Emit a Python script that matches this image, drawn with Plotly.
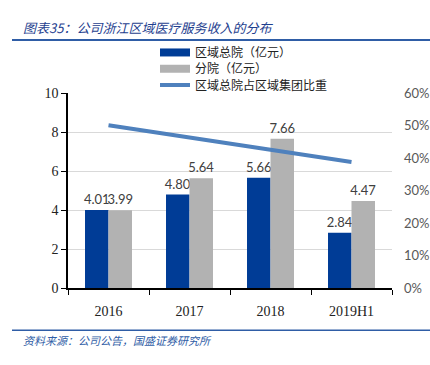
import plotly.graph_objects as go

categories = ["2016", "2017", "2018", "2019H1"]
hq_revenue = [4.01, 4.80, 5.66, 2.84]
branch_revenue = [3.99, 5.64, 7.66, 4.47]
hq_share = [0.501, 0.462, 0.426, 0.388]
series_names = ["区域总院（亿元）", "分院（亿元）", "区域总院占区域集团比重"]

W, H = 430, 365
def px(x):
    return x / W
def py(y):
    return 1 - y / H

blue = "#003C96"
gray = "#B2B2B2"
line_blue = "#4F81BD"
hdr_blue = "#2F5DA6"
label_font = dict(family="Lato, Liberation Sans", size=13, color="#404040")

fig = go.Figure()
fig.add_trace(go.Bar(
    x=categories, y=hq_revenue, name=series_names[0], showlegend=False,
    marker=dict(color=blue, line=dict(width=0)),
    text=[f"{v:.2f}" for v in hq_revenue], textposition="outside",
    textfont=label_font, cliponaxis=False, constraintext="none",
))
fig.add_trace(go.Bar(
    x=categories, y=branch_revenue, name=series_names[1], showlegend=False,
    marker=dict(color=gray, line=dict(width=0)),
    text=[f"{v:.2f}" for v in branch_revenue], textposition="outside",
    textfont=label_font, cliponaxis=False, constraintext="none",
))
fig.add_trace(go.Scatter(
    x=categories, y=hq_share, name=series_names[2], yaxis="y2",
    mode="lines", line=dict(color=line_blue, width=4), showlegend=False,
))

# legend entries (one legend per series, so spacing matches the reference)
fig.add_trace(go.Scatter(x=[categories[0]], y=[None], mode="lines", name=series_names[0],
                         line=dict(color=blue, width=8), legend="legend"))
fig.add_trace(go.Scatter(x=[categories[0]], y=[None], mode="lines", name=series_names[1],
                         line=dict(color=gray, width=8), legend="legend2"))
fig.add_trace(go.Scatter(x=[categories[0]], y=[None], mode="lines", name=series_names[2], yaxis="y2",
                         line=dict(color=line_blue, width=4), legend="legend3"))

leg_common = dict(xanchor="left", yanchor="middle", bgcolor="rgba(0,0,0,0)",
                  font=dict(family="Noto Sans CJK SC", size=12, color="#222"),
                  borderwidth=0)

fig.update_layout(
    width=W, height=H, margin=dict(l=0, r=0, t=0, b=0),
    paper_bgcolor="white", plot_bgcolor="white",
    barmode="group", bargap=0.42, bargroupgap=0,
    showlegend=True,
    legend=dict(x=px(155), y=py(46.5), **leg_common),
    legend2=dict(x=px(155), y=py(63.5), **leg_common),
    legend3=dict(x=px(155), y=py(80.5), **leg_common),
    xaxis=dict(domain=[px(68), px(392)], showline=True, linecolor="black", linewidth=1.5,
               ticks="outside", tickson="boundaries", ticklen=5, tickcolor="black",
               ticklabelstandoff=9,
               tickfont=dict(family="Liberation Serif", size=14, color="#222"),
               showgrid=False),
    yaxis=dict(domain=[py(293), py(89)], range=[0, 10], dtick=2,
               showline=True, linecolor="black", linewidth=1.5,
               ticks="outside", ticklen=5, tickcolor="black",
               tickfont=dict(family="Liberation Serif", size=14, color="#222"),
               showgrid=True, gridcolor="#D9D9D9", zeroline=False),
    yaxis2=dict(overlaying="y", side="right", range=[0, 0.6], dtick=0.1,
                tickformat=".0%", showgrid=False, showline=False, zeroline=False,
                ticklabelstandoff=11,
                tickfont=dict(family="Lato, Liberation Sans", size=13, color="#595959")),
    font=dict(family="Noto Sans CJK SC"),
)

fig.add_shape(type="line", xref="paper", yref="paper", x0=px(12), x1=px(430),
              y0=py(33.5), y1=py(33.5), line=dict(color=hdr_blue, width=2))
fig.add_shape(type="line", xref="paper", yref="paper", x0=px(12), x1=px(430),
              y0=py(337), y1=py(337), line=dict(color=hdr_blue, width=1.5))

fig.add_annotation(text="<i>图表35：公司浙江区域医疗服务收入的分布</i>", xref="paper", yref="paper",
                   x=px(21), y=py(20), xanchor="left", yanchor="middle", showarrow=False,
                   font=dict(family="Noto Sans CJK SC", size=13, color="#1F3F8F"))
fig.add_annotation(text="<i>资料来源：公司公告，国盛证券研究所</i>", xref="paper", yref="paper",
                   x=px(21), y=py(347), xanchor="left", yanchor="middle", showarrow=False,
                   font=dict(family="Noto Sans CJK SC", size=11, color="#2F5DA6"))

fig.write_html("out.html", config={"displayModeBar": False},
               post_script="document.body.style.margin='0px';")
